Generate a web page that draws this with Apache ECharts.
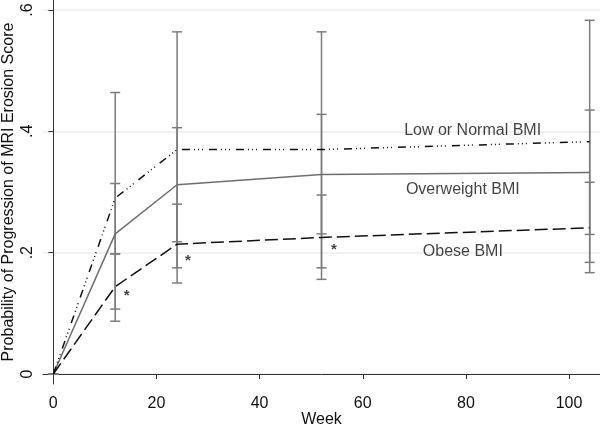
<!DOCTYPE html>
<html><head><meta charset="utf-8">
<script src="https://cdn.jsdelivr.net/npm/echarts@6/dist/echarts.min.js"></script>
<style>html,body{margin:0;padding:0;background:#fff}#c{width:600px;height:425px}</style>
</head><body><div id="c"></div>
<script>
// ---- data ----
const weeks = [0, 12, 24, 52, 104];
const lowNormal = [0, 0.290, 0.370, 0.370, 0.383];
const overweight = [0, 0.231, 0.312, 0.329, 0.332];
const obese = [0, 0.144, 0.214, 0.225, 0.241];
// confidence intervals [low, high] per week
const lowNormalCI = [[0,0],[0.198,0.464],[0.218,0.564],[0.231,0.564],[0.230,0.583]];
const overweightCI = [[0,0],[0.107,0.314],[0.175,0.406],[0.175,0.428],[0.184,0.435]];
const obeseCI = [[0,0],[0.087,0.198],[0.150,0.280],[0.156,0.295],[0.167,0.316]];
const xTicks = [0, 20, 40, 60, 80, 100];
const yTicks = [0, 0.2, 0.4, 0.6];
const seriesLabels = [[81.3, 0.401, 'Low or Normal BMI'], [79.4, 0.3044, 'Overweight BMI'], [79.4, 0.2016, 'Obese BMI']];
const asterisks = [[14.2, 0.129, '*'], [26.1, 0.186, '*'], [54.4, 0.204, '*']];

const FONT = '"Liberation Sans", Arial, Helvetica, sans-serif';
const pair = (xs, ys) => xs.map((x, i) => [x, ys[i]]);
const ciData = [];
[lowNormalCI, overweightCI, obeseCI].forEach(ci => ci.forEach((r, i) => ciData.push([weeks[i], r[0], r[1]])));

const chart = echarts.init(document.getElementById('c'), null, {renderer: 'canvas'});
chart.setOption({
  animation: false,
  backgroundColor: '#fff',
  grid: {left: 43, right: 0, top: 0, bottom: 41, containLabel: false, outerBoundsMode: 'none'},
  xAxis: {
    type: 'value', min: -2, max: 106,
    name: 'Week', nameLocation: 'middle', nameGap: 28, nameMoveOverlap: false,
    nameTextStyle: {fontFamily: FONT, fontSize: 16, color: '#111'},
    axisLine: {show: true, lineStyle: {color: '#333', width: 1}},
    axisTick: {show: true, length: 5, customValues: xTicks, lineStyle: {color: '#333'}},
    axisLabel: {customValues: xTicks, margin: 12, fontFamily: FONT, fontSize: 16, color: '#111'},
    splitLine: {show: false}
  },
  yAxis: {
    type: 'value', min: -0.0165, max: 0.6165,
    name: 'Probability of Progression of MRI Erosion Score', nameLocation: 'middle', nameGap: 26, nameMoveOverlap: false,
    nameTextStyle: {fontFamily: FONT, fontSize: 16, color: '#111'},
    axisLine: {show: true, lineStyle: {color: '#333', width: 1}},
    axisTick: {show: true, length: 5, customValues: yTicks, lineStyle: {color: '#333'}},
    axisLabel: {customValues: yTicks, rotate: 90, margin: 7, fontFamily: FONT, fontSize: 16, color: '#111',
      formatter: v => v === 0 ? '0' : String(Math.round(v * 10) / 10).replace(/^0/, '')},
    splitLine: {show: true, lineStyle: {color: '#ececec', width: 1.5}}
  },
  series: [
    {
      type: 'custom', z: 1, data: ciData,
      renderItem: (params, api) => {
        const x = api.value(0);
        const lo = api.coord([x, api.value(1)]);
        const hi = api.coord([x, api.value(2)]);
        const w = 5;
        const st = {stroke: '#7c7c7c', lineWidth: 1.5};
        return {type: 'group', children: [
          {type: 'line', shape: {x1: lo[0], y1: lo[1], x2: hi[0], y2: hi[1]}, style: st},
          {type: 'line', shape: {x1: lo[0] - w, y1: lo[1], x2: lo[0] + w, y2: lo[1]}, style: st},
          {type: 'line', shape: {x1: hi[0] - w, y1: hi[1], x2: hi[0] + w, y2: hi[1]}, style: st}
        ]};
      }
    },
    {type: 'line', z: 3, data: pair(weeks, overweight), symbol: 'none',
      lineStyle: {color: '#6e6e6e', width: 1.5, type: 'solid'}},
    {type: 'line', z: 3, data: pair(weeks, lowNormal), symbol: 'none',
      lineStyle: {color: '#111', width: 1.5, type: [8, 4, 1, 3, 1, 3, 1, 6]}},
    {type: 'line', z: 3, data: pair(weeks, obese), symbol: 'none',
      lineStyle: {color: '#111', width: 1.5, type: [13, 5]}},
    {type: 'scatter', z: 4, data: seriesLabels, symbolSize: 0, silent: true,
      label: {show: true, position: 'inside', formatter: p => p.value[2], fontFamily: FONT, fontSize: 16,
        color: '#111', textBorderWidth: 0}},
    {type: 'scatter', z: 4, data: asterisks, symbolSize: 0, silent: true,
      label: {show: true, position: 'inside', formatter: p => p.value[2], fontFamily: FONT, fontSize: 15,
        fontWeight: 'bold', color: '#111', textBorderWidth: 0}}
  ]
});
</script></body></html>
